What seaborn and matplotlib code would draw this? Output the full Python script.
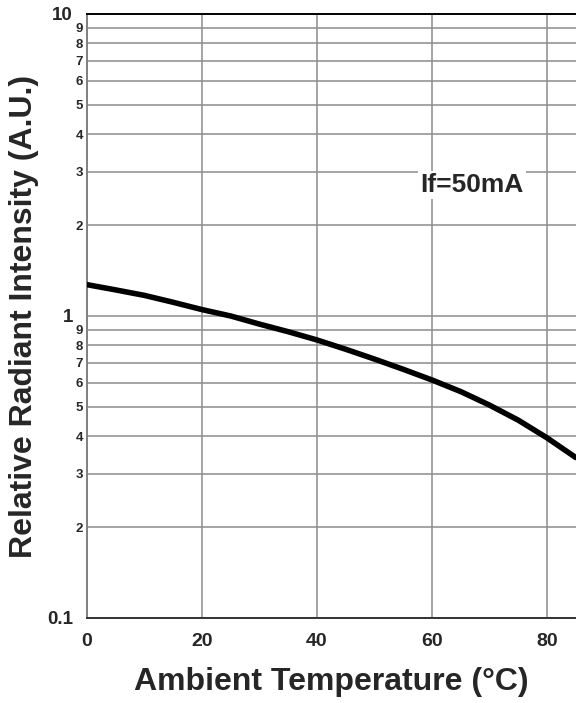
import matplotlib
matplotlib.use("Agg")
import matplotlib.pyplot as plt
import numpy as np
import pandas as pd
import seaborn as sns
from matplotlib.ticker import FixedLocator, FixedFormatter

# Values (If = 50 mA)
temperature = [0, 5, 10, 15, 20, 25, 30, 35, 40, 45, 50, 55, 60, 65, 70, 75, 80, 85]
intensity = [1.27, 1.22, 1.17, 1.11, 1.05, 1.00, 0.94, 0.887, 0.833, 0.776,
             0.72, 0.666, 0.614, 0.562, 0.507, 0.452, 0.395, 0.34]

x_ticks = [0, 20, 40, 60, 80]
y_major = [0.1, 1, 10]
y_major_labels = ["0.1", "1", "10"]
y_minor = [0.2, 0.3, 0.4, 0.5, 0.6, 0.7, 0.8, 0.9, 2, 3, 4, 5, 6, 7, 8, 9]
y_minor_labels = ["2", "3", "4", "5", "6", "7", "8", "9"] * 2

annotation = "If=50mA"


def main() -> None:
    sns.set_style("white")
    plt.rcParams["font.family"] = ["Liberation Sans", "DejaVu Sans"]
    plt.rcParams["font.weight"] = "bold"

    df = pd.DataFrame({"temperature": temperature, "intensity": intensity})

    fig = plt.figure(figsize=(5.76, 7.03), dpi=100)
    ax = fig.add_axes([87 / 576, 85 / 703, 489 / 576, 604 / 703])

    sns.lineplot(data=df, x="temperature", y="intensity", ax=ax,
                 color="black", linewidth=4.0, zorder=5)

    ax.set_yscale("log")
    ax.set_xlim(0, 85.05)
    ax.set_ylim(0.1, 10)

    ax.set_xticks(x_ticks)
    ax.set_xticklabels([str(t) for t in x_ticks])
    ax.yaxis.set_major_locator(FixedLocator(y_major))
    ax.yaxis.set_major_formatter(FixedFormatter(y_major_labels))
    ax.yaxis.set_minor_locator(FixedLocator(y_minor))
    ax.yaxis.set_minor_formatter(FixedFormatter(y_minor_labels))

    ax.tick_params(axis="x", which="major", length=0, pad=11, labelsize=14)
    ax.tick_params(axis="y", which="major", length=0, pad=10, labelsize=13.5)
    ax.tick_params(axis="y", which="minor", length=0, pad=3, labelsize=9.5)
    for lbl in ax.get_yticklabels(minor=True) + ax.get_yticklabels() + ax.get_xticklabels():
        lbl.set_fontweight("bold")

    ax.grid(True, which="both", axis="y", color="#8c8c8c", linewidth=1.1)
    ax.grid(True, which="major", axis="x", color="#8c8c8c", linewidth=1.1)
    ax.set_axisbelow(True)

    ax.spines["right"].set_visible(False)
    ax.spines["top"].set_color("black")
    ax.spines["top"].set_linewidth(1.4)
    ax.spines["left"].set_color("#808080")
    ax.spines["left"].set_linewidth(1.4)
    ax.spines["bottom"].set_color("#333333")
    ax.spines["bottom"].set_linewidth(1.4)

    ax.set_xlabel("Ambient Temperature (°C)", fontsize=23, fontweight="bold", labelpad=12)
    ax.set_ylabel("Relative Radiant Intensity (A.U.)", fontsize=23, fontweight="bold", labelpad=6)

    ax.text(67.0, 2.71, annotation, fontsize=19, fontweight="bold", ha="center", va="center",
            bbox=dict(facecolor="white", edgecolor="none", pad=1.5), zorder=4)

    fig.savefig("out.png", dpi=100)
    plt.close(fig)


if __name__ == "__main__":
    main()
